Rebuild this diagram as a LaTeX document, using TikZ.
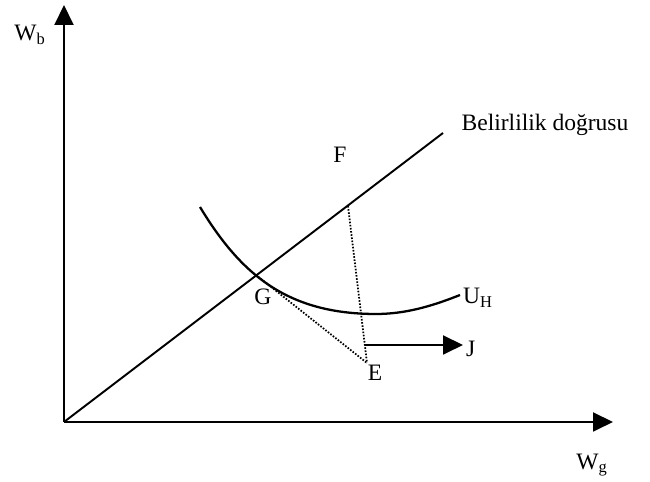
\documentclass[tikz,border=0pt]{standalone}
\usepackage{fontspec}
\setmainfont{Liberation Serif}
\usepackage{tikz}
\usetikzlibrary{calc}
\usetikzlibrary{arrows.meta}
\tikzset{axisline/.style={black,line width=1.1pt,-{Triangle[length=4mm,width=3.8mm]}}}
\tikzset{dotline/.style={black,line width=1pt,dash pattern=on .9pt off .9pt}}
\tikzset{lbl/.style={font=\fontsize{13.4}{15}\selectfont,inner sep=1pt}}

\begin{document}
\begin{tikzpicture} [x=0.02cm,y=0.02cm]
\useasboundingbox (-64,-60) rectangle (586,422);
\coordinate (O) at (0,0);
\coordinate (yend) at (0,417);
\coordinate (xend) at (549,0);
\coordinate (lend) at (379,289);
\coordinate (F) at (284,216);
\coordinate (G) at (192,147);
\coordinate (E) at (303,59);
\coordinate (Jstart) at (301,77);
\coordinate (Jend) at (399,77);
\coordinate (umin) at (312,108);
\draw[axisline] (O)--(yend);
\draw[axisline] (O)--(xend);
\draw[black,line width=1.1pt] (O)--(lend);
\draw[black,line width=1.3pt] (136,215) .. controls (176,149) and (222,108) .. (umin) .. controls (340,108) and (366,115) .. (396,127);
\draw[dotline] (F)--(E);
\draw[dotline] (G)--(E);
\draw[axisline] (Jstart)--(Jend);
\node[lbl] (wb) at (-34,387) {W\textsubscript{b}};
\node[lbl] (wg) at (528,-43) {W\textsubscript{g}};
\node[lbl] (bel) at (481,297) {Belirlilik doğrusu};
\node[lbl] (flbl) at (276,267) {F};
\node[lbl] (glbl) at (199,125) {G};
\node[lbl] (elbl) at (311,49) {E};
\node[lbl,anchor=west] (jlbl) at ($(Jend)+(1,-4)$) {J};
\node[lbl] (uh) at (414,124) {U\textsubscript{H}};
\end{tikzpicture}
\end{document}
